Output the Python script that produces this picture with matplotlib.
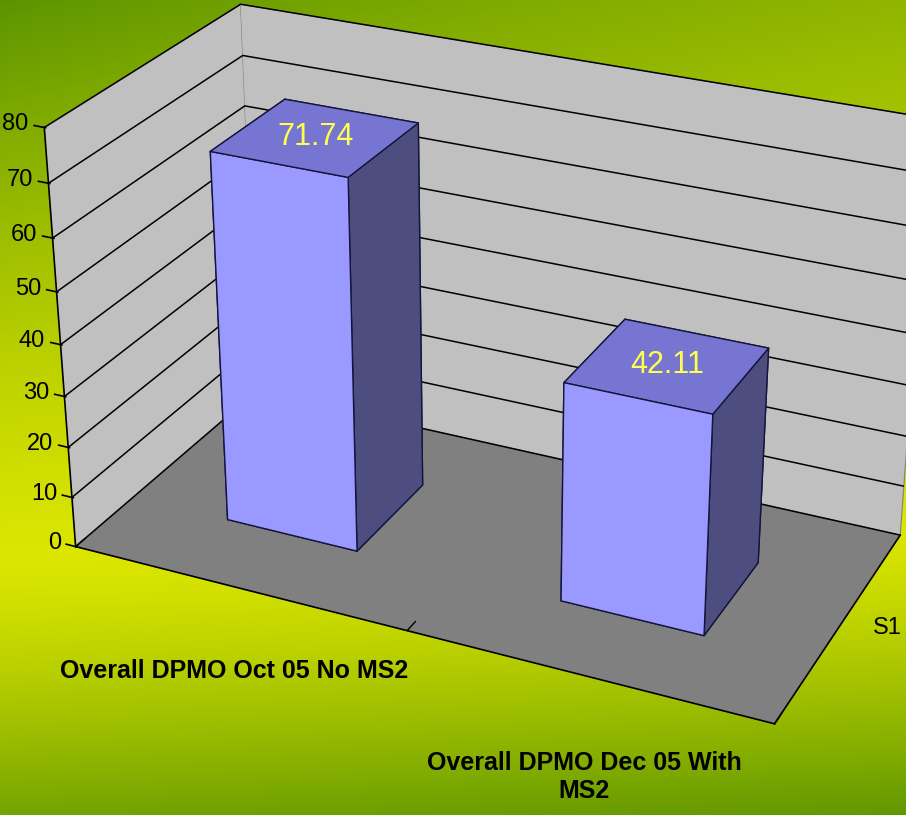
import numpy as np
import matplotlib
matplotlib.use("Agg")
import matplotlib.pyplot as plt

# chart data
categories = ["Overall DPMO Oct 05 No MS2", "Overall DPMO Dec 05 With\nMS2"]
values = [71.74, 42.11]
series_names = ["S1"]
value_ticks = [0, 10, 20, 30, 40, 50, 60, 70, 80]

FRONT = "#9999FF"
TOP = "#7676D2"
SIDE = "#4D4D80"
EDGE = "#14143C"
WALL = "#C0C0C0"
FLOOR = "#808080"

plt.rcParams["font.family"] = ["Liberation Sans", "DejaVu Sans"]

fig = plt.figure(figsize=(9.06, 8.15), dpi=100)

# green / yellow gradient behind the chart
H, W = 815, 906
yy, xx = np.mgrid[0:H, 0:W]
band = 560 - 0.04 * xx
d = yy - band
t = np.where(d < 0, -d / (560.0 + 0.25 * xx), d / 300.0)
t = np.clip(t, 0, 1) ** 1.3
green = np.array([0.36, 0.58, 0.0])
yellow = np.array([0.86, 0.90, 0.0])
img = yellow * (1 - t)[..., None] + green * t[..., None]
bg = fig.add_axes([0, 0, 1, 1])
bg.imshow(img, aspect="auto", interpolation="bilinear")
bg.axis("off")

ax = fig.add_axes([0.028, 0.070, 1.0, 1.0], projection="3d")
ax.set_facecolor("none")
ax.view_init(elev=26.5, azim=-65)
ax.set_proj_type("persp", focal_length=0.65)
ax.set_box_aspect((2, 1, 1.22), zoom=1.16)

n = len(values)
xs = np.arange(n) + 0.3
ys = np.full(n, 0.3)
zs = np.zeros(n)
# face order in bar3d: -z, +z, -y, +y, -x, +x
face_cols = []
for _ in range(n):
    face_cols += [FRONT, TOP, FRONT, FRONT, FRONT, SIDE]
ax.bar3d(xs, ys, zs, 0.4, 0.4, values, color=face_cols, shade=False,
         edgecolor=EDGE, linewidth=1.0)

for i, v in enumerate(values):
    ax.text(i + 0.5, 0.5, v, f"{v:.2f}", color="#FFFF4D", ha="center", va="center",
            fontsize=22, zorder=50)
    ax.text(i + 0.54, -0.1, -10, categories[i], ha="center", va="top",
            fontsize=18, fontweight="bold", zorder=50)

# value axis: tick marks and labels on the front-left edge
for v in value_ticks:
    ax.plot([0.004, -0.03], [0, 0], [v, v], color="black", lw=1.2,
            zorder=60, clip_on=False)
    ax.text(-0.047, 0, v, str(v), ha="right", va="center", fontsize=17, zorder=50)

# series name beside the depth axis
ax.text(n + 0.08, 0.52, 0, series_names[0], ha="left", va="center",
        fontsize=17, zorder=50)

ax.set_xlim(0, n)
ax.set_ylim(0, 1)
ax.set_zlim(value_ticks[0], value_ticks[-1])
ax.set_xticks(range(n + 1))
ax.set_yticks([0.5])
ax.set_zticks(value_ticks)
for a in (ax.xaxis, ax.yaxis, ax.zaxis):
    a.set_tick_params(label1On=False, label2On=False)
ax.zaxis.set_ticks_position("lower")

ax.xaxis.set_pane_color(WALL)
ax.yaxis.set_pane_color(WALL)
ax.zaxis.set_pane_color(FLOOR)
for a in (ax.xaxis, ax.yaxis, ax.zaxis):
    a.pane.set_edgecolor("#808080")
    a.pane.set_linewidth(0.8)
    a.line.set_color("black")
    a.line.set_linewidth(1.2)

# only horizontal gridlines on the walls
ax.xaxis._axinfo["grid"]["color"] = (0, 0, 0, 0)
ax.yaxis._axinfo["grid"]["color"] = (0, 0, 0, 0)
ax.zaxis._axinfo["grid"]["color"] = "black"
ax.zaxis._axinfo["grid"]["linewidth"] = 1.1
ax.xaxis._axinfo["tick"].update(inward_factor=0, outward_factor=0.6, linewidth={True: 1.0, False: 1.0})
ax.yaxis._axinfo["tick"].update(inward_factor=0, outward_factor=0)
ax.zaxis._axinfo["tick"].update(inward_factor=0, outward_factor=0)
ax.tick_params(colors="black")

fig.savefig("out.png", dpi=100)
